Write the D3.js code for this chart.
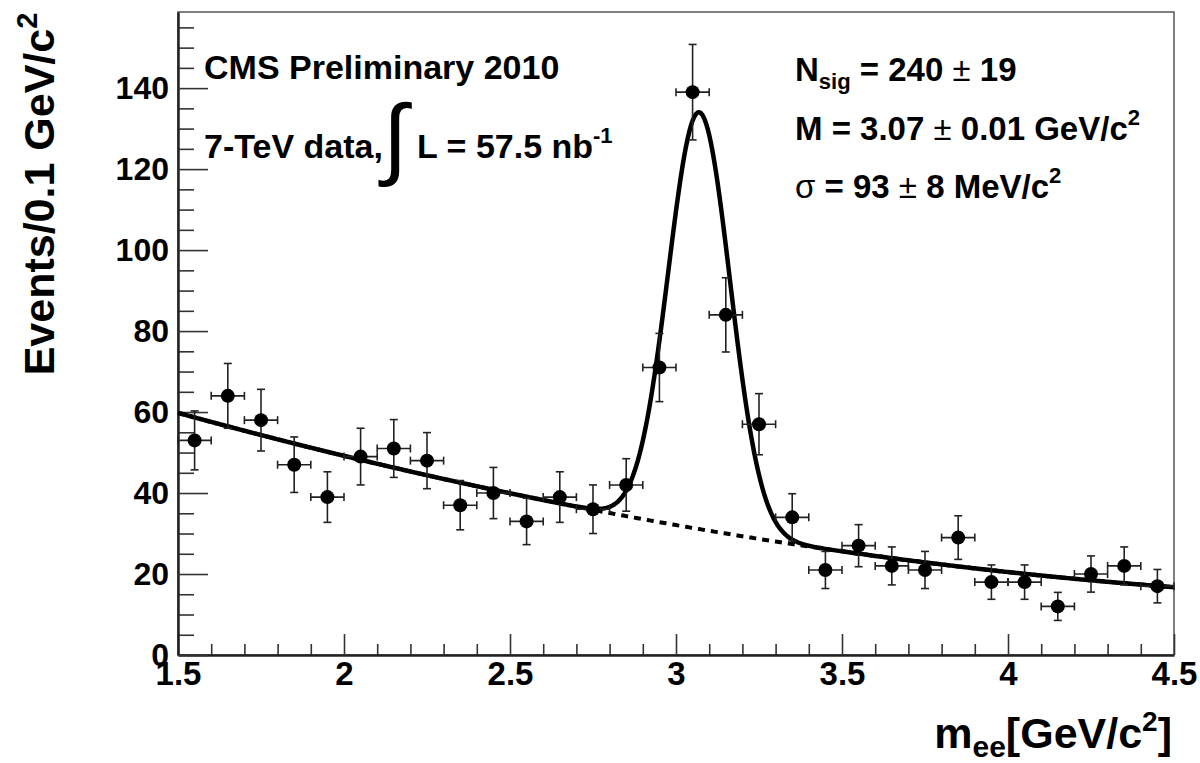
<!DOCTYPE html>
<html>
<head>
<meta charset="utf-8">
<script src="https://cdn.jsdelivr.net/npm/d3@7"></script>
<style>
  body { margin: 0; background: #fff; }
  svg text { font-family: "Liberation Sans", Arial, Helvetica, sans-serif; font-weight: bold; fill: #000; }
</style>
</head>
<body>
<svg id="chart" width="1200" height="763"></svg>
<script>
// bin centres (GeV/c^2) and event counts per 0.1 GeV/c^2
const binCenters = [1.55, 1.65, 1.75, 1.85, 1.95, 2.05, 2.15, 2.25, 2.35, 2.45,
                    2.55, 2.65, 2.75, 2.85, 2.95, 3.05, 3.15, 3.25, 3.35, 3.45,
                    3.55, 3.65, 3.75, 3.85, 3.95, 4.05, 4.15, 4.25, 4.35, 4.45];
const counts = [53, 64, 58, 47, 39, 49, 51, 48, 37, 40,
                33, 39, 36, 42, 71, 139, 84, 57, 34, 21,
                27, 22, 21, 29, 18, 18, 12, 20, 22, 17];
const binWidth = 0.1;

// fit results: signal [N_sig, M, sigma], background polynomial in (m - 1.5)
const sigParams = [240, 3.07, 0.093];
const bkgCoef = [59.8, -22.6, 2.75];

const xMajor = [1.5, 2, 2.5, 3, 3.5, 4, 4.5];
const yMajor = [0, 20, 40, 60, 80, 100, 120, 140];

const svg = d3.select("#chart");
const x = d3.scaleLinear().domain([1.5, 4.5]).range([178, 1174]);
const y = d3.scaleLinear().domain([0, 158.8]).range([655, 12]);

// frame
svg.append("rect")
  .attr("x", 178).attr("y", 12)
  .attr("width", 996).attr("height", 643)
  .attr("fill", "none").attr("stroke", "#555").attr("stroke-width", 1.5);

// minor ticks
const xMinor = d3.range(16, 45).map(i => i / 10).filter(v => !xMajor.includes(v));
const yMinor = d3.range(5, 160, 5).filter(v => v % 20 !== 0);

svg.append("g").attr("transform", "translate(0,655)")
  .call(d3.axisBottom(x).tickValues(xMinor).tickSizeInner(-11).tickSizeOuter(0).tickFormat(""))
  .call(g => g.select(".domain").remove());
svg.append("g").attr("transform", "translate(178,0)")
  .call(d3.axisLeft(y).tickValues(yMinor).tickSizeInner(-16).tickSizeOuter(0).tickFormat(""))
  .call(g => g.select(".domain").remove());

// major axes
const xAxis = svg.append("g").attr("transform", "translate(0,655)")
  .call(d3.axisBottom(x).tickValues(xMajor).tickSizeInner(-21).tickSizeOuter(0)
    .tickPadding(7).tickFormat(d => String(d)));
const yAxis = svg.append("g").attr("transform", "translate(178,0)")
  .call(d3.axisLeft(y).tickValues(yMajor).tickSizeInner(-30).tickSizeOuter(0)
    .tickPadding(9));

svg.selectAll(".tick line").attr("stroke", "#333").attr("stroke-width", 1.6);
svg.selectAll(".domain").attr("stroke", "#222").attr("stroke-width", 2.5);
xAxis.selectAll("text").style("font-size", "33px").attr("font-family", null);
yAxis.selectAll("text").style("font-size", "32px").attr("font-family", null);

// fit curves
const bkg = m => {
  const t = m - 1.5;
  return bkgCoef[0] + bkgCoef[1] * t + bkgCoef[2] * t * t;
};
const sig = m => {
  const [n, mu, s] = sigParams;
  return n * binWidth / (s * Math.sqrt(2 * Math.PI)) * Math.exp(-0.5 * ((m - mu) / s) ** 2);
};
const grid = d3.range(0, 601).map(i => 1.5 + i * 0.005);
const line = d3.line().x(d => x(d[0])).y(d => y(d[1]));

svg.append("path")
  .datum(grid.map(m => [m, bkg(m)]))
  .attr("d", line)
  .attr("fill", "none").attr("stroke", "#000").attr("stroke-width", 4)
  .attr("stroke-dasharray", "7,6");

svg.append("path")
  .datum(grid.map(m => [m, bkg(m) + sig(m)]))
  .attr("d", line)
  .attr("fill", "none").attr("stroke", "#000").attr("stroke-width", 4.5)
  .attr("stroke-linejoin", "round");

// data points with error bars
const pts = binCenters.map((m, i) => ({ m, n: counts[i], e: Math.sqrt(counts[i]) }));
const cap = 4;
const pg = svg.append("g").attr("stroke", "#222").attr("stroke-width", 1.6);
pts.forEach(p => {
  const cx = x(p.m), cy = y(p.n);
  const x0 = x(p.m - binWidth / 2), x1 = x(p.m + binWidth / 2);
  const y0 = y(p.n - p.e), y1 = y(p.n + p.e);
  pg.append("line").attr("x1", cx).attr("x2", cx).attr("y1", y0).attr("y2", y1);
  pg.append("line").attr("x1", cx - cap).attr("x2", cx + cap).attr("y1", y0).attr("y2", y0);
  pg.append("line").attr("x1", cx - cap).attr("x2", cx + cap).attr("y1", y1).attr("y2", y1);
  pg.append("line").attr("x1", x0).attr("x2", x1).attr("y1", cy).attr("y2", cy);
  pg.append("line").attr("x1", x0).attr("x2", x0).attr("y1", cy - cap).attr("y2", cy + cap);
  pg.append("line").attr("x1", x1).attr("x2", x1).attr("y1", cy - cap).attr("y2", cy + cap);
});
svg.append("g").selectAll("circle")
  .data(pts).join("circle")
  .attr("cx", d => x(d.m)).attr("cy", d => y(d.n)).attr("r", 7)
  .attr("fill", "#000");

// axis titles
const yt = svg.append("text")
  .attr("transform", "translate(54,194) rotate(-90)")
  .attr("text-anchor", "middle")
  .style("font-size", "43px");
yt.append("tspan").text("Events/0.1 GeV/c");
yt.append("tspan").attr("dy", -17).style("font-size", "29px").text("2");

const xt = svg.append("text")
  .attr("x", 1172).attr("y", 748)
  .attr("text-anchor", "end")
  .style("font-size", "43px");
xt.append("tspan").text("m");
xt.append("tspan").attr("dy", 9).style("font-size", "30px").text("ee");
xt.append("tspan").attr("dy", -9).text("[GeV/c");
xt.append("tspan").attr("dy", -17).style("font-size", "28px").text("2");
xt.append("tspan").attr("dy", 17).text("]");

// annotations
const fs = "34px";
svg.append("text").attr("x", 204).attr("y", 79).style("font-size", fs)
  .text("CMS Preliminary 2010");

const lumi = svg.append("text").attr("x", 204).attr("y", 158).style("font-size", fs);
lumi.append("tspan").text("7-TeV data,");
lumi.append("tspan").attr("dy", 10).style("font-size", "90px").style("font-weight", "normal").text("\u222B");
lumi.append("tspan").attr("dy", -10).text(" L = 57.5 nb");
lumi.append("tspan").attr("dy", -15).style("font-size", "22px").text("-1");

const fs2 = "33px";
const nsig = svg.append("text").attr("x", 795).attr("y", 81).style("font-size", fs2);
nsig.append("tspan").text("N");
nsig.append("tspan").attr("dy", 8).style("font-size", "22px").text("sig");
nsig.append("tspan").attr("dy", -8).text(" = 240 ");
nsig.append("tspan").style("font-weight", "normal").text("\u00B1");
nsig.append("tspan").text(" 19");

const mass = svg.append("text").attr("x", 795).attr("y", 140).style("font-size", fs2);
mass.append("tspan").text("M = 3.07  ");
mass.append("tspan").style("font-weight", "normal").text("\u00B1");
mass.append("tspan").text(" 0.01 GeV/c");
mass.append("tspan").attr("dy", -15).style("font-size", "22px").text("2");

const width = svg.append("text").attr("x", 795).attr("y", 198).style("font-size", fs2);
width.append("tspan").style("font-weight", "normal").text("\u03C3");
width.append("tspan").text(" = 93  ");
width.append("tspan").style("font-weight", "normal").text("\u00B1");
width.append("tspan").text(" 8 MeV/c");
width.append("tspan").attr("dy", -15).style("font-size", "22px").text("2");
</script>
</body>
</html>
